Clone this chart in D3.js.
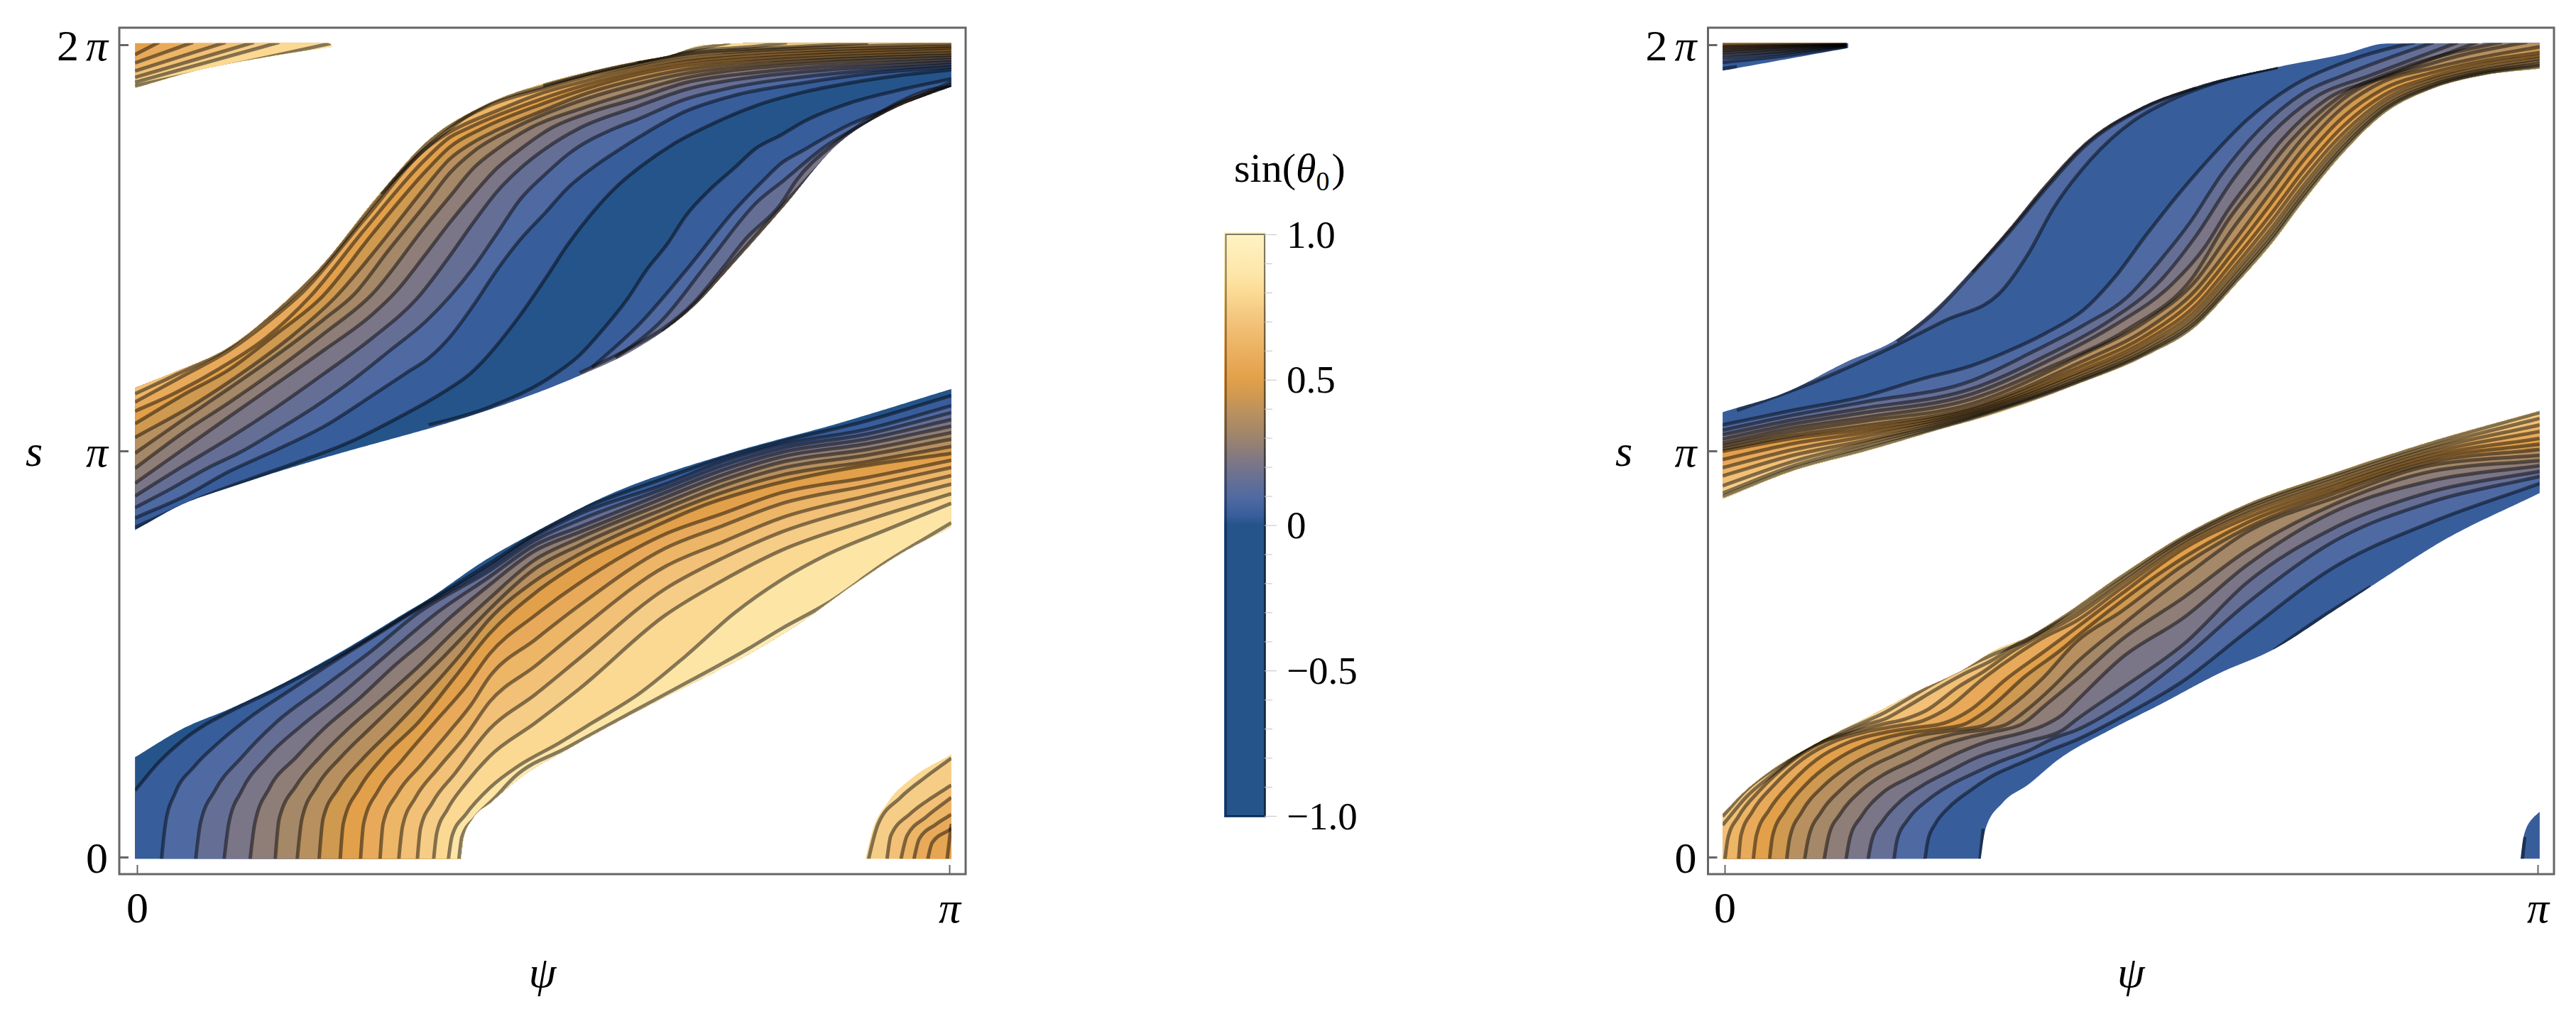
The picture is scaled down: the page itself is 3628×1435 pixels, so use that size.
<!DOCTYPE html>
<html><head><meta charset="utf-8">
<style>html,body{margin:0;padding:0;background:#fff}svg{display:block}text{font-family:"Liberation Serif",serif;fill:#000}</style>
<script src="https://cdnjs.cloudflare.com/ajax/libs/d3/7.8.5/d3.min.js"></script>
</head><body><svg id="c" width="3628" height="1435"></svg>
<script>
// All contour coordinates: [psi in % of pi, s in % of pi]
const colorValues=[-1,0,.03,.09,.15,.21,.26,.32,.38,.44,.5,.56,.62,.68,.74,.79,.85,1];
const colorHex=["#25548a","#25548a","#385d9b","#4f6aa3","#656f96","#7a7688","#8f7d78","#a48868","#b89060","#cf9950","#e3a04a","#e8aa5a","#edb566","#f2c076","#f6cd86","#fbd993","#fde5a6","#fff3c6"];
const sTicks=[0,100,200], sTickLabels=[["0"],["","π"],["2","π"]];
const psiTicks=[0,100], psiTickLabels=["0","π"];
const barMinorTicks=[-.9,-.8,-.7,-.6,-.4,-.3,-.2,-.1,.1,.2,.3,.4,.6,.7,.8,.9];
const barMajorTicks=[-1,-.5,0,.5,1], barMajorLabels=["−1.0","−0.5","0","0.5","1.0"];
const bands=[.03,.09,.15,.21,.26,.32,.38,.44,.5,.56,.62,.68,.74,.79,.85,.91];

// ---- left panel, upper lobe
const luUpper=[[0,115.7],[4.4,119.2],[11.4,125.6],[18.4,137],[22.2,144.4],[30,163.6],[35.6,176],[42.5,184.8],[49.5,190.1],[57.3,194.1],[61.6,195.9],[65.4,197.3],[69.9,199.9],[76.2,200.4],[100,200.4]];
const luLower=[[0,80.8],[5.6,86.9],[11.4,91],[17.2,94.8],[26,100],[31.8,103.2],[35.9,105.5],[43.4,110.2],[54.5,118.6],[61.5,125.3],[68.5,135.5],[73.5,146.3],[79.3,159.4],[86.4,175.8],[92.2,183.3],[98.3,188.3],[100,189.5]];
const luUps=[
[[0,81.4],[4,85],[8.5,89],[13.4,92.7],[20,97.4],[26,102],[32,108],[37.6,114.3],[41,119],[47.2,133.5],[50.2,142.2],[53.1,151],[56,158.5],[59,165],[62,170],[66,175.5],[70.3,180],[76.2,185],[82,188.3],[87.8,190.6],[93.7,192.4],[100,193.8]],
[[0,83.7],[5.6,88.6],[11.4,95],[17.2,100.3],[23,106],[29,113.7],[33,119],[36,123],[38.5,128],[41.4,135.8],[44.3,144.5],[47.2,152.1],[50.2,158.5],[53.1,164.9],[56,169.6],[59,173.7],[62,177.5],[67.4,183.5],[73.3,187.4],[82,190.6],[90.7,193],[100,194.5]],
[[0,86.3],[4,90.5],[8.5,95.6],[13,100],[17.2,105],[22,111],[26,116.6],[31,124.5],[35.6,132],[38.5,138],[41.4,145.1],[44.3,153.5],[47.2,162],[50.2,168],[53.1,173.1],[58.9,179.5],[61.6,181.6],[67.4,186.5],[73.3,189.5],[82,192.1],[90.7,193.8],[100,195.1]],
[[0,89.2],[5.6,96.2],[11.4,103.2],[17.2,110.8],[23,119],[28.9,127.7],[34.5,137.6],[38.5,148],[41.4,156.2],[44.3,163.8],[47.2,169.6],[50.2,174.3],[54.5,179.5],[61.6,184.8],[67.4,188.9],[76.2,192.1],[84.9,193.8],[100,195.7]],
[[0,92.4],[5.6,100.3],[11.4,108.5],[17.2,116.6],[23,124.8],[28.9,133.5],[32,139.5],[35.6,148.6],[38.5,156.2],[41.4,163.2],[44.3,169.6],[47.2,174.3],[51,179.5],[56,183.5],[61.6,186.8],[67.4,190.6],[76.2,193.2],[84.9,194.7],[100,196.3]],
[[0,96.1],[5.6,104.4],[11.4,112],[17.2,120.1],[23,128.9],[28.9,138.5],[35.6,155.6],[38.5,162.6],[41.4,169.6],[44.3,174.3],[48.4,179.5],[55,184.5],[61.6,188.6],[67.4,191.8],[76.2,194.3],[84.9,195.6],[100,196.9]],
[[0,99.8],[5.6,107.6],[11.4,115.5],[17.2,123.6],[23,132.4],[26.7,138.5],[31,149.5],[35.6,160.9],[38.5,168.4],[41.4,173.7],[46.4,179.5],[54,185.8],[61.6,190.3],[67.4,192.9],[76.2,195.1],[84.9,196.3],[100,197.4]],
[[0,103.6],[7,111.4],[12.8,119],[18.7,127.7],[24.5,138],[30,151],[35.6,165.2],[38.5,171.9],[41.4,176],[44.3,179],[50,183.8],[55,187.8],[61.6,191.5],[67.4,193.9],[76.2,195.9],[84.9,196.9],[100,198]],
[[0,107],[5.6,113.7],[11.4,120.1],[17.2,128.9],[22.8,138],[29,153.5],[35.6,169],[38.5,174.8],[42.6,179.5],[50,185.5],[55,189],[61.6,192.7],[67.4,194.9],[76.2,196.6],[84.9,197.6],[100,198.6]],
[[0,110],[4.1,113.7],[10,120.1],[15.8,127.7],[21.3,138],[28,154.5],[35.6,172],[38.5,177.2],[40.8,179.5],[50,186.8],[55,190],[61.6,193.5],[67.4,195.7],[76.2,197.3],[84.9,198.2],[100,199.2]],
[[0,112.3],[5.6,118.4],[11.4,124.8],[17.2,133.5],[20.1,138.5],[28,157],[35.6,174.5],[38.5,178.5],[44,183.5],[50,188.2],[55,191],[61.6,194.4],[67.4,196.4],[76.2,198],[84.9,198.8],[100,199.6]],
[[0,114.3],[4.4,118.4],[11.4,125.6],[14.3,130],[18.4,136.4],[22,143.4],[30,162.8],[35.6,175.5],[43,184.7],[50,189.2],[55,192],[61.6,195.1],[67.4,197.2],[76.2,198.6],[84.9,199.4],[100,200.2]],
[[30,163.4],[37,177],[43,185.2],[50,189.7],[57,193.5],[61.6,195.5],[67.4,197.7],[76.2,199],[84.9,199.9],[90,200.5]],
[[50,190],[61.6,195.7],[69,198.5],[76.2,199.6],[80,200.5]],
[[61.6,195.85],[69.5,199.2],[73,200.5]]];
const luUpBands=[.03,.09,.15,.21,.26,.32,.38,.44,.5,.56,.62,.68,.74,.79,.85];
const luDowns=[
[[35.9,106.4],[43.4,110.8],[51,118.3],[54.5,123.6],[57.4,130],[60.4,137.5],[62.7,144.5],[65.3,151],[67.6,158],[70.5,164.3],[73.5,169.6],[76.2,174.5],[79.3,177.8],[82,181],[87.8,185.7],[93.7,188.8],[100,191.5]],
[[56,120.6],[61.8,131.1],[67.6,144.5],[73.5,159.1],[77,166.4],[79.3,170.8],[82,174],[87.8,180.4],[93.7,185.1],[100,190.6]],
[[58.9,123],[64.7,132.3],[70.5,146.9],[76.4,161.4],[79.5,166.4],[84.9,175.2],[90.7,181.6],[100,190]],
[[54.5,119.2],[61.5,126.2],[64.7,130],[68.5,136.4],[71.7,144],[74.9,152.1],[79.3,160.9],[81.1,166.4],[86.1,176],[92.5,184.5],[98.3,189.2],[100,189.6]],
[[64.7,129.3],[68.5,135.9],[73.5,147],[79.3,160],[84.9,172],[92.5,184.2],[100,189.5]]];
const luDownBands=[.03,.09,.15,.21,.32];

// ---- left panel, lower lobe
const llUpper=[[0,24.9],[5.6,31.6],[11.4,36.5],[17.8,42.6],[24.8,50.2],[33,60.1],[35.6,63.2],[42.7,72.9],[50.2,81.3],[57.4,88.6],[72.9,99.4],[86.2,106.7],[100,115.1]];
const llLower=[[39.9,-.4],[40.2,4.8],[41.3,9.4],[43.6,13.5],[46.8,19],[53.4,27],[61.2,35.5],[68.2,42.6],[75.3,50],[81.5,57.5],[88.5,67.5],[94,74.7],[100,81.1]];
const llDowns=[
[[0,17],[2.7,23.4],[5.6,28.7],[8.5,32.7],[11.4,35.8],[17.8,42],[24.8,49.4],[33,59.4],[43.4,72.3],[49,79.5],[54.5,85.4],[65,93.3],[72,98.2],[79.3,102.3],[90,107.5],[100,113.5]],
[[3,-1],[3.5,8.2],[4.7,15.8],[7,22.2],[10,28.1],[14.3,35],[18.7,40.9],[24.5,48.5],[28.9,54],[33.3,59.5],[43.4,71.5],[49,79],[54.5,84.5],[65,91.8],[72,97.3],[79.3,101.5],[90,105.4],[100,111]],
[[7.2,-1],[7.8,8.3],[9.6,16.4],[12.9,24.6],[17.2,33.3],[23,42],[28.9,50.8],[34.4,59.8],[43.4,70.5],[49,78],[54.5,83],[65,90.8],[72,96.3],[79.3,100.6],[90,104.2],[100,109.3]],
[[10.7,-1],[11.3,8.3],[12.9,16.4],[16,24.6],[20.1,32.1],[24.5,39.1],[30.3,49],[36.7,59.8],[43.4,69],[49,76.8],[54.5,81.3],[65,89.7],[72,95.2],[79.3,99.6],[90,103],[100,107.6]],
[[13.9,-1],[14.5,8.3],[16.3,17],[19.6,24.6],[23,31.6],[27.4,39.1],[31.8,47.3],[36.2,54.7],[38,58],[43.4,67],[49,75.4],[54.5,80],[65,88.5],[72,94],[79.3,98.5],[90,101.8],[100,106]],
[[17,-1],[17.5,9.4],[19.6,17.6],[22.5,24.6],[26,31.6],[30.3,39.1],[34.7,47],[39,55.5],[43.4,63.7],[49,73.2],[54.5,78.6],[65,87.2],[72,92.7],[79.3,97.2],[90,100.4],[100,104.4]],
[[19.7,-1],[20.3,9.4],[22.2,17.6],[25.1,24.6],[28.9,32.1],[33.3,40.6],[37.6,49],[41.7,57.5],[43.4,61],[49,71],[54.5,76.8],[65,85.8],[72,91.3],[79.3,95.7],[90,99],[100,102.8]],
[[22.4,-1],[22.9,9.4],[24.8,17],[27.7,24],[31.5,31.6],[35.9,40.9],[39.9,50],[43.4,58.6],[49,68],[54.5,74.6],[65,84.3],[72,89.7],[79.3,94],[90,97.4],[100,101]],
[[25,-1],[25.4,8.3],[27.4,17],[30.3,24.6],[34.7,33.3],[39.1,44.2],[43.4,55],[49,65],[54.5,72.5],[63.3,81],[69,86],[76.8,91],[87,95.5],[100,99.3]],
[[27.5,-1],[27.9,8.3],[29.7,16.4],[32.7,24],[36.7,33.3],[40.5,42],[43.4,50],[49,59.5],[54.5,67.5],[65,79.5],[72,84.5],[79.3,89.7],[90,93.5],[100,97.6]],
[[29.9,-1],[30.3,8.3],[32.1,15.8],[35,22.8],[38.5,31],[41.1,37.4],[43.4,44.4],[49,53.5],[54.5,62],[65,76],[72,81.5],[79.3,87],[90,91.5],[100,95.8]],
[[32.2,-1],[32.7,7.7],[34.3,14.7],[37,21.7],[40.5,30],[43.4,38.2],[49,47],[54.5,56],[65,71.5],[72,77.5],[79.3,83.5],[90,89],[100,93.8]],
[[34.5,-1],[34.9,7.1],[36.4,13.5],[39.1,20.5],[43.4,31.5],[49,40],[54.5,49],[65,66],[72,73.5],[79.3,80],[90,86.5],[100,91.7]],
[[36.5,-1],[36.9,5.9],[38.2,11.7],[40.5,18.2],[43.4,24.8],[49,33],[54.5,41.5],[65,59.5],[72,68],[79.3,75.5],[90,83],[100,89.3]],
[[38.3,-1],[38.8,5.3],[40.5,10.6],[43.4,17],[47,22.5],[51.9,28],[56,33],[61.8,40.2],[67.6,49.6],[73.5,60],[79.3,68.2],[85,74.5],[92.4,80.7],[100,86.9]],
[[39.6,-1],[40,5],[41.5,9.5],[44,14.5],[46.4,19.6],[53,27],[61.2,36],[68,43.3],[75,51],[79.3,56.2],[85,62.5],[92,72.3],[100,82]]];

// ---- left panel, bottom right corner and top left sliver
const lcEdge=[[89.7,-.4],[90.5,6.2],[92.4,13.4],[95.5,19.6],[100,25]];
const lcDowns=[[[90,-1],[91.2,8],[94,14.7],[97,19.6],[100,24]],[[92.3,-1],[92.8,5.3],[95.2,10.7],[97.9,14.7],[100,17.4]],[[94,-1],[94.8,5.3],[97.1,9.8],[100,14.3]],[[95.6,-1],[96.3,4.5],[98.3,8],[100,10.2]],[[97.3,-1],[97.9,3.6],[100,6.7]],[[99.7,-1],[100,4]]];
const lcBands=[.74,.68,.62,.56,.53,.5];
const lsUpper=[[0,200.4],[23.7,200.4],[24,199.5]];
const lsLower=[[0,189.5],[6.6,193.3],[15.9,197],[24,199.5]];
const lsDowns=[[[0,197.8],[2.7,200.6]],[[0,195.7],[6.9,200.6]],[[0,193.7],[10.9,200.6]],[[0,192.1],[14.4,200.6]],[[0,190.9],[17.5,200.6]],[[0,190],[24.5,200.6]]];
const lsBands=[.56,.62,.68,.74,.79,.85];

// ---- right panel, upper lobe
const ruUpper=[[0,109.7],[7.4,114.3],[15,121.9],[21.2,127.5],[25.8,134.8],[30.4,144.4],[35,154.8],[39.6,166],[44.2,175.7],[51.1,184.5],[58,189.7],[68,194.5],[76.4,197.8],[81.4,200.3],[100,200.4]];
const ruLower=[[0,88.4],[8.4,95.1],[17.1,99.8],[25.9,105],[34.6,110],[43.3,116.4],[51.9,123.5],[58,130.7],[62.6,140.4],[67.2,150.8],[71.1,161.2],[75.7,172.5],[81,182.9],[87.2,189.3],[93.3,192.5],[100,194.1]];
const ruUps=[
[[1.5,110],[11.3,117.2],[20,125],[27,132],[33.8,138.8],[37.3,148.4],[40.4,159.6],[45,171.7],[50.3,181.3],[55,186.5],[61,191],[68,194.6]],
[[21.2,127],[25.8,134],[30.4,143.6],[35,153.8],[39.6,164.8],[44.2,174.8],[51.1,184],[58,189.4],[68,194.4]],
[[30.4,144.1],[35,154.4],[39.6,165.5],[44.2,175.4],[51.1,184.3],[58,189.6]]];
const ruUpBands=[.09,.15,.26];
const ruDowns=[
[[0,106.5],[8.4,110],[17.1,113.4],[24.4,117.8],[30.4,121],[34.2,124],[39.6,129.1],[44.2,134.8],[48,142.8],[51.9,153.3],[55.7,162.9],[59.5,171.7],[64.2,181.4],[69.5,189.4],[76.4,195.8],[84.9,200.6]],
[[0,105.2],[8.4,108.8],[17.1,112],[30.4,117.3],[38,124.5],[44.2,131],[49.6,138],[53.4,146.5],[57.3,156.4],[61.1,168],[65.7,179],[71.1,188],[76.4,192.7],[87.2,200.6]],
[[0,104.1],[8.4,107.6],[17.1,110.5],[30.4,115.3],[39.6,123.5],[47.3,132],[53.4,141.5],[58,153],[62.6,167],[67.2,178],[72.6,187],[79.5,192.5],[90.2,200.6]],
[[0,103],[8.4,106.6],[17.1,109.4],[30.4,114],[39.6,122],[48,131],[55,141],[59,150],[62,159.5],[64.8,167],[68.5,176.5],[74,186.5],[81,192],[92.6,200.6]],
[[0,102],[8.4,105.6],[17.1,108.2],[30.4,112.8],[40.4,121],[49.6,130],[57.5,142.5],[62,157],[65.7,166.5],[69.5,176],[75.5,187],[83,194],[95.6,200.6]],
[[0,101.3],[8.4,104.7],[17.1,107.3],[30.4,111.6],[43.3,123],[51.9,132],[58,142],[62.6,155],[67.2,167],[71.1,177],[75.7,186],[87.2,195.5],[98.7,200.6]]];
const ruPsi=[0,8.4,17.1,30.4,43.3,51.9,58,62.6,67.2,71.1,75.7,81,87.2,93.3,100];
const ruTable=[
[100.6,103.8,106.2,110.7,121.4,130,139.7,151.4,163.8,174.2,184,190.9,194.3,197,199.4],
[100,103.1,105.3,110.2,120.3,128.5,137.7,149,160.9,171.3,181.5,189.1,193.2,196,198],
[98,101.8,104.4,109.7,119.3,127.3,135.9,146.8,158.3,168.7,179.2,187.5,192.2,195.2,197.2],
[96,100.3,103.5,109.3,118.6,126.3,134.6,145.1,156.4,166.8,177.4,186.3,191.5,194.4,196.5],
[94,98.9,102.5,108.9,117.9,125.5,133.4,143.7,154.7,165.1,176,185.3,190.8,193.8,195.9],
[91.6,97.4,101.8,108.5,117.4,124.8,132.5,142.6,153.4,163.8,174.8,184.5,190.3,193.4,195.3],
[89.8,96.3,101,108.2,117,124.3,131.8,141.7,152.4,162.8,173.9,183.9,189.9,193,194.9],
[89,95.6,100.3,107.9,116.7,123.9,131.2,141.05,151.6,162,173.2,183.4,189.6,192.8,194.5]];

// ---- right panel, lower lobe
const rlUpper=[[0,11.2],[2.6,16.4],[5.5,21],[11.3,28],[17.7,34.5],[23.8,40.9],[28.8,45.5],[33.7,51.3],[37,53.9],[41.1,58.8],[48.8,69.5],[56.5,79.3],[64.2,86.9],[74.9,94.5],[86.4,102],[100,109.7]];
const rlLower=[[31.5,-.4],[32.1,7.1],[34.2,13.4],[37.3,17.8],[41.1,24.1],[47.3,31.2],[53.4,37.4],[61.1,45.5],[67.2,50.8],[74.9,60.6],[81,68.6],[88,77.5],[100,89.4]];
const rlUps=[
[[24.6,-1],[25,4.2],[25.9,8.2],[27.6,12.3],[30.2,16.4],[33.1,20.2],[36,22.8],[40.4,26.6],[43.3,28.9],[48.8,34.5],[56.5,43.5],[64.2,55.5],[74.9,71.3],[87,82.5],[100,91.8]],
[[20.8,-1],[21.2,4.2],[22.6,9.4],[25,14.1],[27.6,17.6],[30.5,20.5],[33.7,23.4],[37.5,26.3],[40.4,29.2],[43.3,31.3],[48.8,37.5],[56.5,49],[64.2,62.4],[74.9,77.7],[87,87.5],[100,93.6]],
[[17.6,-1],[18.1,4.2],[19.4,8.8],[21.8,14.1],[24.7,18.1],[27.6,21.1],[31.1,24.6],[34.6,26.9],[37.5,28.6],[41.6,31.3],[43.3,33.9],[48.8,41.5],[56.5,52.5],[64.2,67.5],[74.9,81],[87,90],[100,94.9]],
[[14.9,-1],[15.4,4.7],[16.8,10],[19.4,15.8],[22.4,19.3],[25.3,22.2],[28.8,25.7],[32.5,28.6],[36,30.3],[39,32.2],[41.5,35],[43.3,38.5],[48.8,49],[56.5,59],[64.2,71.8],[74.9,85],[87,92.7],[100,96.3]],
[[12.2,-1],[12.8,5.3],[14.2,10.6],[16.8,16.4],[19.7,20.5],[23,23.7],[26.7,27.5],[30.2,29.6],[33.4,31],[36.6,32.8],[39.5,37.5],[43.3,43.8],[48.8,53.5],[56.5,64],[64.2,75.4],[74.9,86.8],[87,95],[100,97.6]],
[[9.8,-1],[10.3,4.7],[11.9,11.2],[14.5,17],[17.4,21.6],[20.9,25.1],[24.7,28.4],[28.2,30.3],[34.3,32.4],[37.5,36.8],[40.4,42],[43.3,47.9],[48.8,57],[56.5,69],[64.2,80],[74.9,88.4],[87,96.5],[100,98.9]],
[[7.6,-1],[8,4.7],[9.5,11.2],[12.2,17.6],[15.1,22.2],[18.9,26.3],[23,29.5],[27.3,31],[31.7,32.3],[34.6,36.2],[39,43.8],[43.3,53.1],[48.8,60.5],[56.5,72],[64.2,81],[74.9,89.5],[87,97.3],[100,100.3]],
[[5.5,-1],[5.9,5.3],[7.5,11.7],[10.1,18.1],[13.3,23.4],[17.4,27.8],[21.5,30.2],[25.3,31.3],[29.3,32.6],[32.3,36.2],[36.9,44.4],[41.6,51.4],[43.3,54.3],[48.8,63],[56.5,73.8],[64.2,82.3],[74.9,90.3],[87,98.1],[100,101.6]],
[[3.5,-1],[3.9,5.3],[5.5,11.7],[8.1,18.1],[11.3,24],[15.4,28.4],[20,30.8],[23.5,31.9],[27,33],[30.2,36.2],[34.6,43.8],[39,50.2],[41.4,53.7],[48.8,64.8],[56.5,76],[64.2,83.5],[74.9,91.2],[87,98.9],[100,103]],
[[1.7,-1],[2,5.3],[3.4,11.2],[6,17.6],[9.5,24],[13.6,28.6],[17.7,31],[20.9,32.2],[24.4,33.6],[27.3,36.5],[31.7,43.8],[36,50],[38.9,53.7],[43.3,58.2],[48.8,66.2],[56.5,77],[64.2,84.5],[74.9,92],[87,99.7],[100,104.7]],
[[0,-1],[.4,4.7],[1.7,10],[4.3,16.4],[8.1,23.4],[12.2,28.4],[16.2,31],[19.4,32.7],[22.2,34],[24.7,36],[28.8,42],[31.7,45.5],[35.5,50.8],[38,53.7],[43.3,59.5],[48.8,67.3],[56.5,77.8],[64.2,85.3],[74.9,92.8],[87,100.5],[100,106.3]],
[[0,8.5],[2.6,14.7],[6,20.5],[10.4,26.9],[14.8,30.5],[17.4,32.6],[19.7,34],[22.4,37],[25.9,41.2],[29.3,45],[33.1,48.7],[36,52.5],[37,53.5],[43.3,60.5],[48.8,68.2],[56.5,78.4],[64.2,86],[74.9,93.5],[87,101.2],[100,107.9]],
[[0,10.6],[2.6,16.4],[6.9,22.8],[11.3,28.1],[17.1,33.2],[19.4,35.3],[22.4,38.8],[25.9,42.9],[30.2,47.3],[33.7,50.5],[37,53.2],[43.3,61.5],[48.8,69],[56.5,78.9],[64.2,86.5],[74.9,94.1],[87,102],[100,109.3]]];
const rlUpBands=[.09,.15,.21,.26,.32,.38,.44,.5,.56,.62,.68,.74,.79];
const rlMarks=[[[31.4,-1],[31.8,7]],[[67.6,51],[73,58.5],[79.5,66.6]]];

// ---- right panel, corner and sliver
const rcEdge=[[97.9,-.4],[98.3,5.3],[99.5,9.8],[100,10.7]];
const rcMarks=[[[98.1,-1],[98.4,5]]];
const rsUpper=[[0,200.4],[15.2,200.4]];
const rsLower=[[0,193.7],[15.2,199.2]];
const rsUps=[[[0,195.7],[7,197.2],[15,199.5]],[[0,196.7],[7,197.9],[15,199.7]],[[0,197.5],[7,198.4],[15,199.8]],[[0,198.1],[7,198.9],[15,199.9]],[[0,198.6],[15,200]],[[0,199.1],[15,200.1]],[[0,199.5],[15,200.2]],[[0,199.9],[15,200.3]]];
const rsUpBands=[.09,.15,.21,.26,.32,.38,.44,.5];
const rsMarks=[[[0,194.2],[1.5,194.6]]];

// ---------- drawing
const svg=d3.select("#c");
const color=d3.scaleLinear().domain(colorValues).range(colorHex).interpolate(d3.interpolateRgb);
const curve=d3.curveMonotoneX;
const ruTableLines=ruTable.map(r=>r.map((s,i)=>[ruPsi[i],s]));
// the plotted mesh overruns the axis range by a quarter of a unit on each side: carry each curve on along its end slope
const extend=p=>{
  const q=p.slice();
  if(q[0][0]===0){const a=q[0],b=q[1];q.unshift([-.25,a[1]-.25*(b[1]-a[1])/(b[0]-a[0])]);}
  const n=q.length;
  if(q[n-1][0]===100){const a=q[n-2],b=q[n-1];q.push([100.25,b[1]+.25*(b[1]-a[1])/(b[0]-a[0])]);}
  return q;
};
const seq=(a,b)=>a.map((d,i)=>({pts:d,band:b[i]}));

const lobesLeft=[
 {outline:[extend(luUpper),extend(luLower)],base:0,ups:seq(luUps,luUpBands),downs:seq(luDowns,luDownBands)},
 {outline:[extend(llUpper),extend(llLower),[[-.25,-.4]]],base:0,ups:[],downs:seq(llDowns,bands)},
 {outline:[[[100.25,-.4]],[[100.25,25.5]],extend(lcEdge)],base:.79,ups:[],downs:seq(lcDowns,lcBands),rightEdge:true},
 {outline:[extend(lsUpper),extend(lsLower)],base:.5,ups:[],downs:seq(lsDowns,lsBands)}];
const lobesRight=[
 {outline:[extend(ruUpper),extend(ruLower)],base:.03,ups:seq(ruUps,ruUpBands),downs:seq(ruDowns.concat(ruTableLines),bands.slice(1))},
 {outline:[extend(rlUpper),extend(rlLower),[[-.25,-.4]]],base:.03,ups:seq(rlUps,rlUpBands),downs:[],marks:rlMarks},
 {outline:[[[100.25,-.4]],[[100.25,11.2]],extend(rcEdge)],base:.03,ups:[],downs:[],marks:rcMarks,rightEdge:true},
 {outline:[extend(rsUpper),extend(rsLower)],base:.03,ups:seq(rsUps,rsUpBands),downs:[],marks:rsMarks}];

let uid=0;
function panel(cfg,lobes){
 const x=d3.scaleLinear().domain([0,100]).range([cfg.x0,cfg.x1]);
 const y=d3.scaleLinear().domain([0,200]).range([1207,63]);
 const g=svg.append("g");
 const line=d3.line().x(d=>x(d[0])).y(d=>y(d[1])).curve(curve);
 lobes.forEach(l=>{
  const id="clip"+(uid++);
  const ns="http://www.w3.org/2000/svg";
  l.outline.forEach(seg=>{
    if(seg.length<2) return;
    const tmp=document.createElementNS(ns,"path");tmp.setAttribute("d",line(seg));
    const L=tmp.getTotalLength();const sampled=[];
    for(let t=0;t<=L;t+=4){const q=tmp.getPointAtLength(t);sampled.push([q.x,q.y]);}
    const e=tmp.getPointAtLength(L);sampled.push([e.x,e.y]);
    seg._s=sampled;
  });
  let ring=[];
  if(l.rightEdge){
    const s=l.outline[2]._s; ring=s.concat([[x(100.25),y(l.outline[1][0][1])],[x(100.25),y(-.4)]]);
  } else {
    const a=l.outline[0]._s,b=l.outline[1]._s.slice().reverse();
    ring=a.concat(b);
    if(l.outline[2]) ring.push([x(l.outline[2][0][0]),y(l.outline[2][0][1])]);
  }
  g.append("clipPath").attr("id",id).append("path").attr("d",d3.line()(ring)+"Z");
  const lg=g.append("g").attr("clip-path",`url(#${id})`);
  lg.append("rect").attr("x",x(-2)).attr("width",x(102)-x(-2)).attr("y",y(202)).attr("height",y(-2)-y(202)).attr("fill",color(l.base));
  const paint=(list,dir)=>{
   const edge=dir==="up"?y(260):y(-60);
   const area=d3.area().x(d=>x(d[0])).y0(d=>y(d[1])).y1(edge).curve(curve);
   lg.selectAll(null).data(list).join("path").attr("fill",d=>color(d.band))
     .attr("d",d=>{
       const p=extend(d.pts);let s=area(p);
       const first=p[0],last=p[p.length-1];
       if(dir==="up"&&first[1]<0) s+=`M${x(-2)},${y(260)}H${x(first[0])}V${y(-60)}H${x(-2)}Z`;
       if(dir==="down"&&last[1]>200.2) s+=`M${x(last[0])},${y(260)}H${x(104)}V${y(-60)}H${x(last[0])}Z`;
       return s;
     });
  };
  paint(l.ups,"up");paint(l.downs,"down");
  const all=l.ups.concat(l.downs).map(d=>d.pts).concat(l.marks||[]);
  lg.selectAll(null).data(all).join("path").attr("fill","none").attr("stroke","#000").attr("stroke-opacity",.47).attr("stroke-width",5)
    .attr("d",d=>line(extend(d)));
 });
 g.append("rect").attr("x",cfg.fx0).attr("y",39).attr("width",cfg.fx1-cfg.fx0).attr("height",1192).attr("fill","none").attr("stroke","#666").attr("stroke-width",3);
 const yAxis=g.append("g").attr("transform",`translate(${cfg.fx0},0)`).call(d3.axisLeft(y).tickValues(sTicks).tickSize(-13).tickPadding(16).tickFormat(""));
 yAxis.select(".domain").remove();
 yAxis.selectAll("line").attr("stroke","#666").attr("stroke-width",3);
 yAxis.selectAll("text").each(function(d,i){
   const t=d3.select(this).attr("font-size",62).attr("dy","0.34em").attr("font-family","Liberation Serif");
   const parts=sTickLabels[i];
   t.append("tspan").text(parts[0]);
   if(parts[1]) t.append("tspan").attr("dx",parts[0]?10:0).attr("font-style","italic").text(parts[1]);
 });
 const xAxis=g.append("g").attr("transform","translate(0,1231)").call(d3.axisBottom(x).tickValues(psiTicks).tickSize(-13).tickFormat((d,i)=>psiTickLabels[i]));
 xAxis.select(".domain").remove();
 xAxis.selectAll("line").attr("stroke","#666").attr("stroke-width",2);
 xAxis.selectAll("text").attr("y",68).attr("dy",0).attr("font-size",62).attr("font-family","Liberation Serif").attr("font-style",(d,i)=>i?"italic":"normal");
 g.append("text").attr("x",cfg.sx).attr("y",656).attr("font-size",62).attr("font-style","italic").text("s");
 g.append("text").attr("x",(cfg.fx0+cfg.fx1)/2).attr("y",1390).attr("text-anchor","middle").attr("font-size",62).attr("font-style","italic").text("ψ");
}
panel({x0:193,x1:1337,fx0:168,fx1:1360,sx:36},lobesLeft);
panel({x0:2429,x1:3574,fx0:2405.5,fx1:3597,sx:2275},lobesRight);

// colour bar
const barY=d3.scaleLinear().domain([-1,1]).range([1149,330]);
const defs=svg.append("defs");
const grad=defs.append("linearGradient").attr("id","bar").attr("x1",0).attr("x2",0).attr("y1",1).attr("y2",0);
grad.selectAll("stop").data(colorValues).join("stop").attr("offset",d=>(d+1)/2).attr("stop-color",d=>color(d));
svg.append("rect").attr("x",1724).attr("y",barY(1)-3).attr("width",59).attr("height",barY(-1)-barY(1)+5).attr("fill","url(#bar)");
svg.append("rect").attr("x",1726.5).attr("y",barY(1)).attr("width",54.5).attr("height",barY(-1)-barY(1)).attr("fill","none").attr("stroke","#000").attr("stroke-opacity",.5).attr("stroke-width",2);
const minor=svg.append("g").attr("transform","translate(1781,0)").call(d3.axisRight(barY).tickValues(barMinorTicks).tickSize(11).tickFormat(""));
const major=svg.append("g").attr("transform","translate(1781,0)").call(d3.axisRight(barY).tickValues(barMajorTicks).tickSize(17).tickPadding(14).tickFormat((d,i)=>barMajorLabels[i]));
[minor,major].forEach(a=>{a.select(".domain").remove();a.selectAll("line").attr("stroke","#ccc").attr("stroke-width",1.2);});
major.selectAll("text").attr("font-size",55).attr("font-family","Liberation Serif").attr("dy","0.33em");
const title=svg.append("text").attr("x",1738).attr("y",256).attr("font-size",58);
title.append("tspan").text("sin(");
title.append("tspan").attr("font-style","italic").text("θ");
title.append("tspan").attr("font-size",38).attr("dy",12).text("0");
title.append("tspan").attr("dy",-12).attr("dx",3).text(")");
</script></body></html>
